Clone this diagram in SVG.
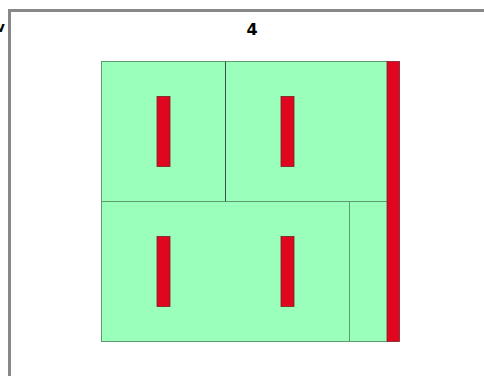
<svg xmlns="http://www.w3.org/2000/svg" width="484" height="376" viewBox="0 0 484 376">
<style>
.cell{fill:#99ffbb;stroke:#5f9a6e;stroke-width:1}
.bar{fill:#e0061f;stroke:#7a2020;stroke-width:0.8}
.lbl{font-family:"DejaVu Sans",sans-serif;font-weight:bold;font-size:16px;fill:#000}
</style>
<rect x="0" y="0" width="484" height="376" fill="#fff"/>
<text x="5" y="32" text-anchor="end" style="font-family:'DejaVu Sans',sans-serif;font-size:14px;font-weight:bold;fill:#000">v</text>
<rect x="9.5" y="10.5" width="500" height="400" fill="none" stroke="#888" stroke-width="3"/>
<text class="lbl" x="252" y="35" text-anchor="middle">4</text>
<g id="cell-tl"><rect class="cell" x="101.5" y="61.5" width="124" height="140"/><rect class="bar" x="157" y="96.5" width="13" height="70"/></g>
<g id="cell-tr"><rect class="cell" x="225.5" y="61.5" width="162" height="140"/><rect class="bar" x="281" y="96.5" width="13" height="70"/></g>
<g id="cell-bl"><rect class="cell" x="101.5" y="201.5" width="248" height="140"/><rect class="bar" x="157" y="236.5" width="13" height="70"/><rect class="bar" x="281" y="236.5" width="13" height="70"/></g>
<g id="cell-br"><rect class="cell" x="349.5" y="201.5" width="38" height="140"/></g>
<line x1="225.5" y1="61.5" x2="225.5" y2="201.5" stroke="#335544" stroke-width="1"/>
<g id="side-bar"><rect class="bar" x="387" y="61.5" width="12.5" height="280"/></g>
</svg>
